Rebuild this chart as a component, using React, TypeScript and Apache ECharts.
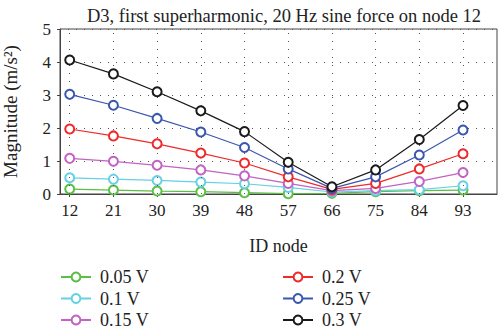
import React, { useEffect, useRef } from "react";
import * as echarts from "echarts";

const nodes = [12, 21, 30, 39, 48, 57, 66, 75, 84, 93];
const seriesNames = ["0.05 V", "0.1 V", "0.15 V", "0.2 V", "0.25 V", "0.3 V"];
const v005 = [0.15, 0.12, 0.09, 0.07, 0.04, 0.01, 0.02, 0.07, 0.1, 0.12];
const v010 = [0.49, 0.45, 0.41, 0.36, 0.31, 0.2, 0.06, 0.1, 0.13, 0.25];
const v015 = [1.08, 0.99, 0.87, 0.73, 0.55, 0.32, 0.1, 0.17, 0.38, 0.65];
const v020 = [1.97, 1.76, 1.52, 1.24, 0.94, 0.52, 0.14, 0.32, 0.76, 1.22];
const v025 = [3.02, 2.69, 2.29, 1.88, 1.41, 0.76, 0.17, 0.52, 1.18, 1.94];
const v030 = [4.06, 3.64, 3.1, 2.52, 1.89, 0.96, 0.22, 0.73, 1.65, 2.68];
const colors = ["#5bbf45", "#66d0e4", "#c262c2", "#ee2a2a", "#3a56b0", "#1a1a1a"];

const allValues = [v005, v010, v015, v020, v025, v030];
const FONT = "Liberation Serif";
const gridDot = { type: [1, 7], color: "#555", width: 1 };

export default function App() {
  const ref = useRef<HTMLDivElement>(null);
  useEffect(() => {
    if (!ref.current) return;
    const chart = echarts.init(ref.current, undefined, { renderer: "svg" });
    const series: any[] = allValues.map((vals, i) => ({
      name: seriesNames[i],
      type: "line",
      data: vals.map((v, j) => [nodes[j], v]),
      symbol: "emptyCircle",
      symbolSize: 9,
      showAllSymbol: true,
      z: 3 + i,
      lineStyle: { color: colors[i], width: 1.2 },
      itemStyle: { color: colors[i], borderColor: colors[i], borderWidth: 1 },
      clip: false,
    }));
    series.push({
      name: "grid",
      type: "line",
      data: [],
      z: 1,
      silent: true,
      markLine: {
        silent: true,
        symbol: "none",
        label: { show: false },
        lineStyle: gridDot,
        data: nodes.map((n) => ({ xAxis: n })),
      },
    });
    const legendCommon = {
      orient: "vertical",
      top: 268,
      height: 70,
      padding: 0,
      itemWidth: 30,
      itemHeight: 11,
      itemGap: 3.5,
      textStyle: { fontFamily: FONT, fontSize: 18, lineHeight: 18, color: "#222", padding: [0, 0, 0, 4] },
    };
    chart.setOption({
      animation: false,
      textStyle: { fontFamily: FONT },
      title: {
        text: "D3, first superharmonic, 20 Hz sine force on node 12",
        left: 279,
        textAlign: "center",
        top: 1,
        textStyle: { fontFamily: FONT, fontSize: 18.5, fontWeight: "normal", color: "#222" },
      },
      legend: [
        { ...legendCommon, left: 60, data: seriesNames.slice(0, 3) },
        { ...legendCommon, left: 282, data: seriesNames.slice(3, 6) },
      ],
      grid: {
        left: 60,
        right: 3,
        top: 29,
        bottom: 138,
        show: true,
        borderColor: "#444",
        borderWidth: 1,
        containLabel: false,
        outerBoundsMode: "none",
      },
      xAxis: {
        type: "value",
        min: 10,
        max: 100,
        name: "ID node",
        nameLocation: "middle",
        nameGap: 43,
        nameTextStyle: { fontFamily: FONT, fontSize: 18, color: "#222" },
        axisLine: { show: true, onZero: false, lineStyle: { color: "#444" } },
        axisTick: { show: true, length: 3, customValues: nodes, lineStyle: { color: "#444" } },
        axisLabel: { customValues: nodes, fontFamily: FONT, fontSize: 17, color: "#222", margin: 8 },
        splitLine: { show: false },
      },
      yAxis: {
        type: "value",
        min: 0,
        max: 5,
        interval: 1,
        name: "Magnitude (m/s²)",
        nameLocation: "middle",
        nameGap: 40,
        nameTextStyle: { fontFamily: FONT, fontSize: 19, color: "#222" },
        axisLine: { show: true, lineStyle: { color: "#444" } },
        axisTick: { show: true, length: 3, lineStyle: { color: "#444" } },
        axisLabel: { fontFamily: FONT, fontSize: 17, color: "#222", margin: 9 },
        splitLine: { show: true, lineStyle: gridDot },
      },
      series,
    });
    return () => chart.dispose();
  }, []);
  return <div ref={ref} style={{ width: 500, height: 332, position: "absolute", left: 0, top: 0 }} />;
}
